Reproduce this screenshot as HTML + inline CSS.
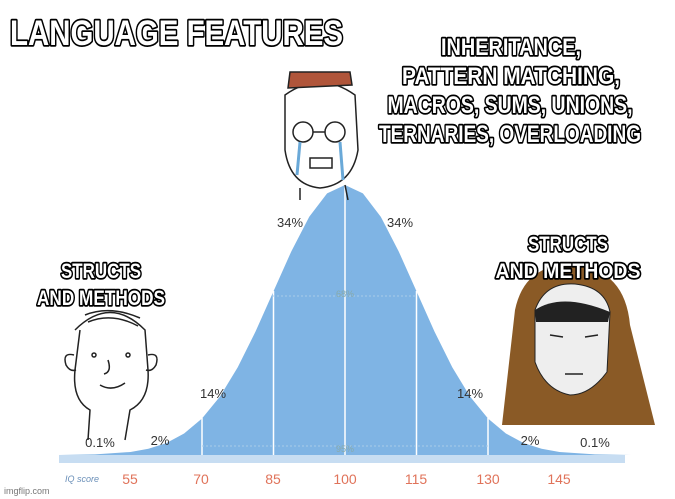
<!DOCTYPE html>
<html><head><meta charset="utf-8"><style>
html,body{margin:0;padding:0;background:#fff;width:675px;height:499px;overflow:hidden}
svg{display:block}
.m{font-family:"Liberation Sans Narrow","Liberation Sans",sans-serif;font-weight:bold;fill:#fff;stroke:#000;stroke-width:3.5;paint-order:stroke;stroke-linejoin:round}
.p{font-family:"Liberation Sans",sans-serif;font-size:13px;fill:#333}
.n{font-family:"Liberation Sans",sans-serif;font-size:14px;fill:#e0735a}
</style></head><body>
<svg width="675" height="499" viewBox="0 0 675 499">
<rect width="675" height="499" fill="#fff"/>
<path fill="#7fb4e4" d="M59,455 L95,454.4 L130.5,452 L148.4,448.8 L166.25,443.1 L184.1,433.5 L202,418.5 L219.9,396.6 L237.75,367.3 L255.6,331.4 L273.5,291.2 L291.4,251.2 L309.25,216.7 L327.1,193.4 L345,185 L362.9,193.4 L380.75,216.7 L398.6,251.2 L416.5,291.2 L434.4,331.4 L452.25,367.3 L470.1,396.6 L488,418.5 L505.9,433.5 L523.75,443.1 L541.6,448.8 L559.5,452 L595,454.4 L631,455 Z"/>
<g stroke="#fff" stroke-width="1.5">
<line x1="273.5" y1="291" x2="273.5" y2="455"/>
<line x1="345" y1="185" x2="345" y2="455"/>
<line x1="416.5" y1="291" x2="416.5" y2="455"/>
<line x1="202" y1="418" x2="202" y2="455"/>
<line x1="488" y1="418" x2="488" y2="455"/>
</g>
<g stroke="#a9cbe9" stroke-width="1" stroke-dasharray="2,2">
<line x1="273" y1="296" x2="416" y2="296"/>
<line x1="202" y1="446" x2="488" y2="446"/>
</g>
<rect x="59" y="455" width="566" height="8" fill="#c7ddf2"/>
<text class="p" x="290" y="227" text-anchor="middle">34%</text>
<text class="p" x="400" y="227" text-anchor="middle">34%</text>
<text x="345" y="297" text-anchor="middle" font-family="Liberation Sans" font-size="9" fill="#8aa">68%</text>
<text x="345" y="452" text-anchor="middle" font-family="Liberation Sans" font-size="9" fill="#8aa">95%</text>
<text class="p" x="213" y="398" text-anchor="middle">14%</text>
<text class="p" x="470" y="398" text-anchor="middle">14%</text>
<text class="p" x="160" y="445" text-anchor="middle">2%</text>
<text class="p" x="530" y="445" text-anchor="middle">2%</text>
<text class="p" x="100" y="447" text-anchor="middle">0.1%</text>
<text class="p" x="595" y="447" text-anchor="middle">0.1%</text>
<text x="65" y="482" font-family="Liberation Sans" font-size="9" font-style="italic" fill="#6a8fb8">IQ score</text>
<g class="n" text-anchor="middle">
<text x="130" y="484">55</text><text x="201" y="484">70</text><text x="273" y="484">85</text><text x="345" y="484">100</text><text x="416" y="484">115</text><text x="488" y="484">130</text><text x="559" y="484">145</text>
</g>
<text x="4" y="494" font-family="Liberation Sans" font-size="9" fill="#777">imgflip.com</text>
<g fill="none" stroke="#222" stroke-width="1.5">
<path d="M75,330 Q110,295 145,330 L148,370 Q150,400 130,410 L125,440 M80,330 L75,370 Q72,400 90,410 L88,440"/>
<path d="M85,315 Q110,305 140,318 M88,322 Q112,312 138,326"/>
<path d="M74,355 Q62,352 66,365 Q70,372 76,370 M148,355 Q160,352 156,365 Q152,372 146,370"/>
<circle cx="94" cy="355" r="2"/><circle cx="128" cy="355" r="2"/>
<path d="M108,360 Q112,372 104,374 M100,385 Q112,392 125,383"/>
</g>
<g fill="none" stroke="#222" stroke-width="1.5">
<path d="M285,95 Q320,70 355,95 L358,150 Q352,185 320,188 Q290,185 285,150 Z"/>
<path d="M290,72 L350,72 L352,85 L288,88 Z" fill="#b0553a"/>
<circle cx="303" cy="132" r="10"/><circle cx="335" cy="132" r="10"/>
<path d="M313,132 L325,132"/>
<rect x="310" y="158" width="22" height="10"/>
<path d="M300,142 L297,175 M340,142 L343,180" stroke="#6aa9d8" stroke-width="3"/>
<path d="M300,188 L300,200 M345,185 L348,200"/>
</g>
<path d="M515,310 Q525,262 575,265 Q625,270 630,325 L655,425 L502,425 Z" fill="#8a5a26"/>
<path d="M535,310 Q545,282 575,284 Q605,287 610,312 L607,372 Q590,395 570,395 Q545,390 535,362 Z" fill="#eee" stroke="#222"/>
<path d="M535,310 Q562,292 610,312 L608,322 L536,322 Z" fill="#222"/>
<path d="M550,335 L563,337 M585,337 L598,335 M565,374 L583,374" stroke="#222" stroke-width="1.5"/>
<text class="m" x="10" y="45" font-size="35" textLength="333" lengthAdjust="spacingAndGlyphs">LANGUAGE FEATURES</text>
<g class="m" font-size="24" text-anchor="middle">
<text x="511" y="55" textLength="140" lengthAdjust="spacingAndGlyphs">INHERITANCE,</text>
<text x="511" y="84" textLength="218" lengthAdjust="spacingAndGlyphs">PATTERN MATCHING,</text>
<text x="510" y="113" textLength="245" lengthAdjust="spacingAndGlyphs">MACROS, SUMS, UNIONS,</text>
<text x="510" y="142" textLength="262" lengthAdjust="spacingAndGlyphs">TERNARIES, OVERLOADING</text>
</g>
<g class="m" font-size="21" text-anchor="middle">
<text x="101" y="278" textLength="80" lengthAdjust="spacingAndGlyphs">STRUCTS</text>
<text x="101" y="305" textLength="128" lengthAdjust="spacingAndGlyphs">AND METHODS</text>
<text x="568" y="251" textLength="80" lengthAdjust="spacingAndGlyphs">STRUCTS</text>
<text x="568" y="278" textLength="145" lengthAdjust="spacingAndGlyphs">AND METHODS</text>
</g>
</svg>
</body></html>
